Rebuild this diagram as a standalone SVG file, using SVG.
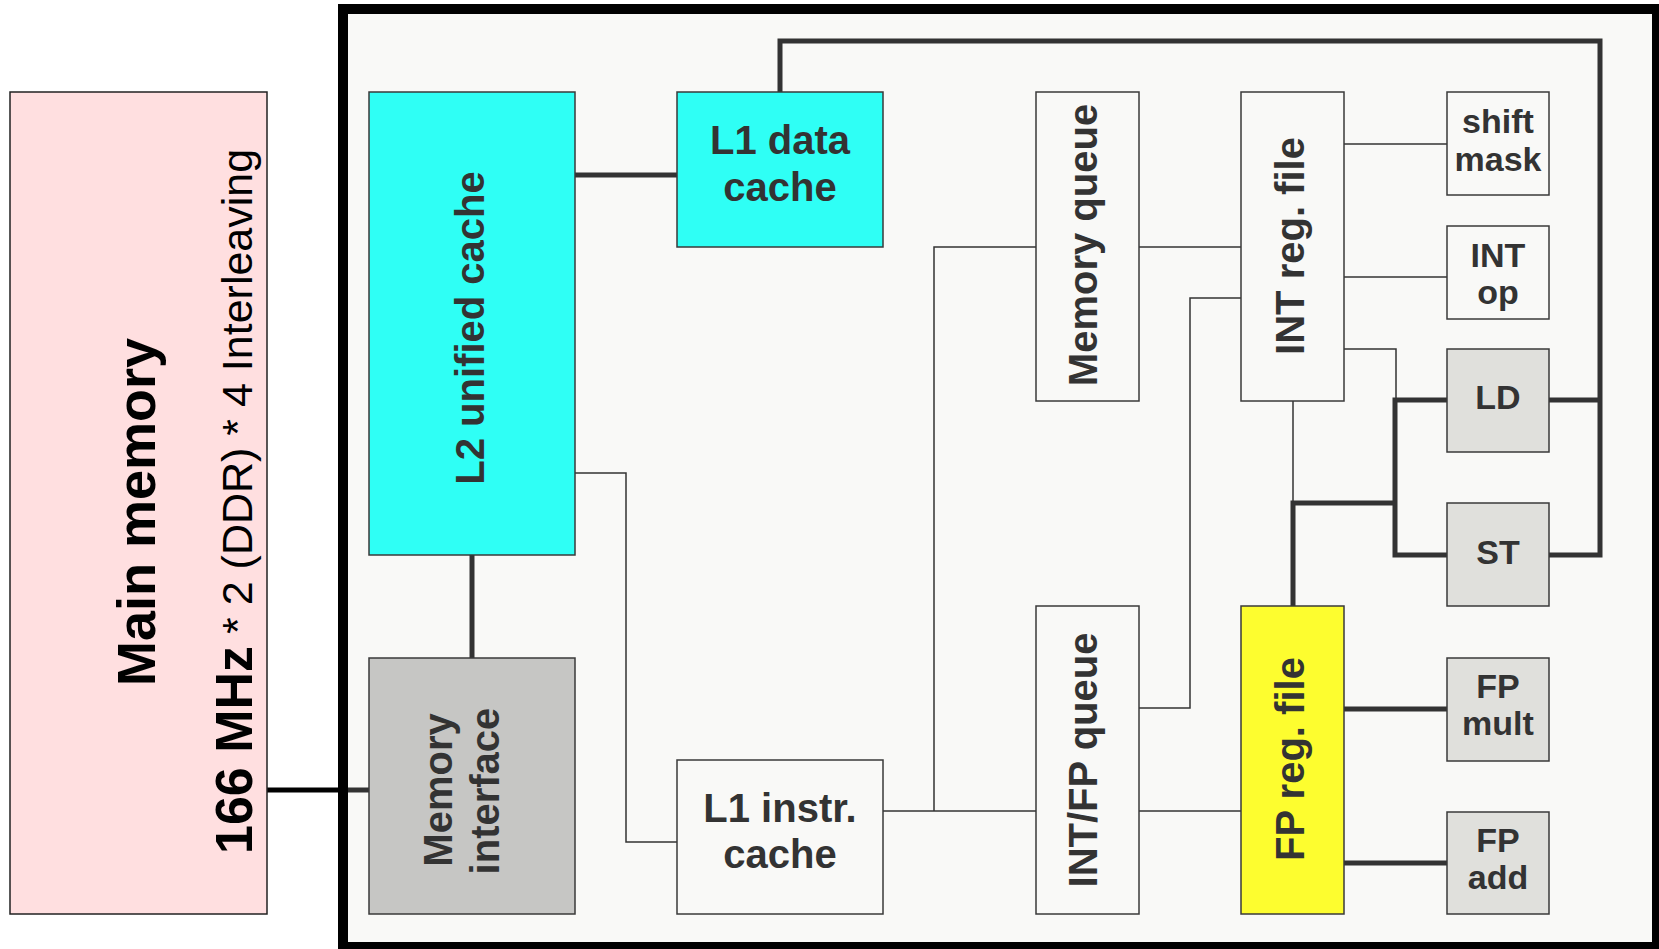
<svg xmlns="http://www.w3.org/2000/svg" width="1659" height="949" viewBox="0 0 1659 949">
<style>
.box{stroke:#3a3a3a;stroke-width:1.5}
.t{font-family:"Liberation Sans",Arial,sans-serif;font-weight:bold;fill:#333;font-size:40px;text-anchor:middle}
.s{font-size:34px}
.thin{fill:none;stroke:#333;stroke-width:1.5}
.thick{fill:none;stroke:#333;stroke-width:5}
</style>
<rect width="1659" height="949" fill="#ffffff"/>
<g id="chip"><rect x="343" y="9" width="1314" height="938" fill="#f9f9f7" stroke="#000" stroke-width="10"/></g>
<g id="connectors">
<line x1="267" y1="790" x2="338" y2="790" stroke="#000" stroke-width="5"/>
<line x1="348" y1="790" x2="369" y2="790" class="thick"/>
<path class="thick" d="M472,555 V658"/>
<path class="thick" d="M575,175 H677"/>
<path class="thick" d="M780,92 V41 H1600 V555 H1549"/>
<path class="thick" d="M1549,400 H1600"/>
<path class="thick" d="M1447,400 H1395 V555 H1447"/>
<path class="thick" d="M1293,606 V503 H1395"/>
<path class="thick" d="M1344,709 H1447"/>
<path class="thick" d="M1344,863 H1447"/>
<path class="thin" d="M575,473 H626 V842 H677"/>
<path class="thin" d="M883,811 H1036"/>
<path class="thin" d="M934,811 V247 H1036"/>
<path class="thin" d="M1139,247 H1241"/>
<path class="thin" d="M1139,708 H1190 V298 H1241"/>
<path class="thin" d="M1139,811 H1241"/>
<path class="thin" d="M1344,144 H1447"/>
<path class="thin" d="M1344,277 H1447"/>
<path class="thin" d="M1344,349 H1396 V400"/>
<path class="thin" d="M1293,401 V503"/>
</g>
<g id="main-memory">
<rect x="10" y="92" width="257" height="822" fill="#ffdfe0" stroke="#222" stroke-width="1.5"/>
<text transform="translate(155,512) rotate(-90)" text-anchor="middle" font-family="Liberation Sans,Arial,sans-serif" font-weight="bold" font-size="54" fill="#000">Main memory</text>
<text transform="translate(252,854) rotate(-90)" font-family="Liberation Sans,Arial,sans-serif" fill="#000"><tspan font-weight="bold" font-size="52">166 MHz</tspan><tspan font-size="43"> * 2 (DDR) * 4 Interleaving</tspan></text>
</g>
<g id="l2-cache">
<rect class="box" x="369" y="92" width="206" height="463" fill="#2ffff5"/>
<text class="t" font-size="41" transform="translate(470,328) rotate(-90)" y="14">L2 unified cache</text>
</g>
<g id="memory-interface">
<rect class="box" x="369" y="658" width="206" height="256" fill="#c6c6c4"/>
<text class="t" transform="translate(452,790) rotate(-90)">Memory</text>
<text class="t" transform="translate(499,791) rotate(-90)">interface</text>
</g>
<g id="l1-data">
<rect class="box" x="677" y="92" width="206" height="155" fill="#2ffff5"/>
<text class="t" x="780" y="154">L1 data</text>
<text class="t" x="780" y="201">cache</text>
</g>
<g id="l1-instr">
<rect class="box" x="677" y="760" width="206" height="154" fill="#f9f9f7"/>
<text class="t" x="780" y="822">L1 instr.</text>
<text class="t" x="780" y="868">cache</text>
</g>
<g id="memory-queue">
<rect class="box" x="1036" y="92" width="103" height="309" fill="#f9f9f7"/>
<text class="t" font-size="41" transform="translate(1097,245) rotate(-90)">Memory queue</text>
</g>
<g id="intfp-queue">
<rect class="box" x="1036" y="606" width="103" height="308" fill="#f9f9f7"/>
<text class="t" font-size="41" transform="translate(1097,760) rotate(-90)">INT/FP queue</text>
</g>
<g id="int-reg-file">
<rect class="box" x="1241" y="92" width="103" height="309" fill="#f9f9f7"/>
<text class="t" font-size="41" transform="translate(1304,246) rotate(-90)">INT reg. file</text>
</g>
<g id="fp-reg-file">
<rect class="box" x="1241" y="606" width="103" height="308" fill="#fdfd2f"/>
<text class="t" font-size="41" transform="translate(1304,759) rotate(-90)">FP reg. file</text>
</g>
<g id="shift-mask">
<rect class="box" x="1447" y="92" width="102" height="103" fill="#f9f9f7"/>
<text class="t s" x="1498" y="133">shift</text>
<text class="t s" x="1498" y="171">mask</text>
</g>
<g id="int-op">
<rect class="box" x="1447" y="226" width="102" height="93" fill="#f9f9f7"/>
<text class="t s" x="1498" y="267">INT</text>
<text class="t s" x="1498" y="304">op</text>
</g>
<g id="ld">
<rect class="box" x="1447" y="349" width="102" height="103" fill="#e0e0dc"/>
<text class="t s" x="1498" y="409">LD</text>
</g>
<g id="st">
<rect class="box" x="1447" y="503" width="102" height="103" fill="#e0e0dc"/>
<text class="t s" x="1498" y="564">ST</text>
</g>
<g id="fp-mult">
<rect class="box" x="1447" y="658" width="102" height="103" fill="#e0e0dc"/>
<text class="t s" x="1498" y="698">FP</text>
<text class="t s" x="1498" y="735">mult</text>
</g>
<g id="fp-add">
<rect class="box" x="1447" y="812" width="102" height="102" fill="#e0e0dc"/>
<text class="t s" x="1498" y="852">FP</text>
<text class="t s" x="1498" y="889">add</text>
</g>
</svg>
